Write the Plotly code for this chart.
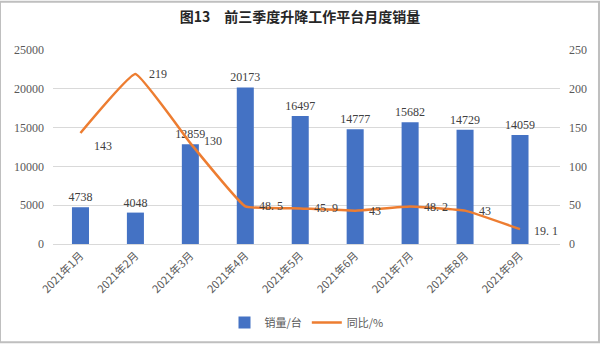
import plotly.graph_objects as go

# Monthly sales of aerial work platforms, first three quarters of 2021
months = ["2021年1月", "2021年2月", "2021年3月", "2021年4月", "2021年5月",
          "2021年6月", "2021年7月", "2021年8月", "2021年9月"]
sales = [4738, 4048, 12859, 20173, 16497, 14777, 15682, 14729, 14059]
yoy = [143, 219, 130, 48.5, 45.9, 43, 48.2, 43, 19.1]
yoy_text = ["143", "219", "130", "48. 5", "45. 9", "43", "48. 2", "43", "19. 1"]
yoy_dy = [-13, 0, 2, 0, 0, 0, 0, 0, -2]

BLUE = "#4472C4"
ORANGE = "#ED7D31"
NUM_FONT = "Liberation Serif, DejaVu Serif, serif"
CJK_FONT = "Noto Sans CJK SC"

fig = go.Figure()

fig.add_trace(go.Bar(
    x=months, y=sales, name="销量/台",
    marker=dict(color=BLUE, line=dict(width=0)),
    text=[str(v) for v in sales], textposition="outside",
    constraintext="none",
    textfont=dict(family=NUM_FONT, size=12, color="#404040"),
    cliponaxis=False,
    yaxis="y",
))

fig.add_trace(go.Scatter(
    x=months, y=yoy, name="同比/%",
    mode="lines",
    line=dict(color=ORANGE, width=2.5, shape="spline", smoothing=0.3),
    yaxis="y2",
))

# value labels for the year-on-year line, placed to the right of each point
for m, v, t, dy in zip(months, yoy, yoy_text, yoy_dy):
    fig.add_annotation(
        x=m, y=v, xref="x", yref="y2", text=t, showarrow=False,
        xanchor="left", yanchor="middle", xshift=12, yshift=dy,
        font=dict(family=NUM_FONT, size=12, color="#404040"),
    )

axis_font = dict(family=NUM_FONT, size=12, color="#595959")

fig.update_layout(
    width=600, height=349,
    margin=dict(l=53, r=40, t=50, b=101),
    paper_bgcolor="white", plot_bgcolor="white",
    bargap=0.69,
    showlegend=True,
    title=dict(
        text="<b>图13　前三季度升降工作平台月度销量</b>",
        x=0.5, xanchor="center", y=1 - 17 / 349, yanchor="middle",
        font=dict(family=CJK_FONT, size=14, color="#262626"),
    ),
    xaxis=dict(
        tickangle=-45,
        tickfont=dict(family=CJK_FONT, size=11, color="#595959"),
        showgrid=False, showline=True, linecolor="#D9D9D9", linewidth=1,
        ticks="",
    ),
    yaxis=dict(
        range=[0, 25000], dtick=5000, tickformat="d",
        showgrid=True, gridcolor="#D9D9D9", gridwidth=1,
        zeroline=False, showline=False, ticks="",
        tickfont=axis_font, ticklabelstandoff=8,
    ),
    yaxis2=dict(
        range=[0, 250], dtick=50, overlaying="y", side="right",
        showgrid=False, zeroline=False, showline=False, ticks="",
        tickfont=axis_font, ticklabelstandoff=8,
    ),
    legend=dict(
        orientation="h", x=0.5, xanchor="center", y=-0.405, yanchor="middle",
        font=dict(family=CJK_FONT, size=11, color="#595959"),
        itemwidth=30, tracegroupgap=0,
    ),
    shapes=[
        dict(type="rect", xref="paper", yref="paper",
             x0=-53 / 507, x1=1 + 40 / 507 - 0.002,
             y0=-101 / 198 + 0.004, y1=1 + 50 / 198 - 0.004,
             line=dict(color="#BFBFBF", width=2), layer="above"),
    ],
)

fig.write_html("out.html")
